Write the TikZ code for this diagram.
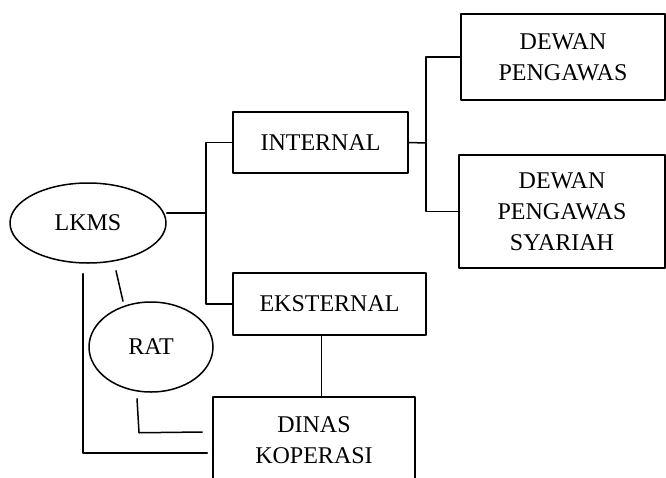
\documentclass[tikz,border=0pt]{standalone}
\usepackage{fontspec}
\setmainfont{Liberation Serif}
\usetikzlibrary{shapes.geometric,calc}
\begin{document}
\begin{tikzpicture}[x=1pt,y=-1pt,line join=round,line cap=round,line width=1.5pt,
	font=\fontsize{24}{31}\selectfont,
	kotak/.style={draw,rectangle,align=center,inner sep=2pt},
	elips/.style={draw,ellipse,inner sep=0pt}]
	\useasboundingbox[fill=white] (0,0) rectangle (666,477);
	\node[elips,minimum width=156,minimum height=80] (lkms) at (88,223) {LKMS};
	\node[elips,minimum width=124,minimum height=90] (rat) at (151,347) {RAT};
	\node[kotak,minimum width=175,minimum height=61] (internal) at (320.5,142.5) {INTERNAL};
	\node[kotak,minimum width=193,minimum height=62] (eksternal) at (329.5,304) {EKSTERNAL};
	\node[kotak,minimum width=204,minimum height=86] (dp) at (563,57) {DEWAN\\PENGAWAS};
	\node[kotak,minimum width=206,minimum height=113] (dps) at (562,211.5) {DEWAN\\PENGAWAS\\SYARIAH};
	\node[kotak,minimum width=202,minimum height=86] (dinas) at (314,440) {DINAS\\KOPERASI};
	\coordinate (bus1) at (206,213);
	\coordinate (bus2) at (426,143);
	\draw ([yshift=10pt]lkms.east) -- (bus1);
	\draw (internal.west) -| (bus1) |- (eksternal.west);
	\draw (internal.east) -- (bus2);
	\draw (dp.west) -| (bus2) |- (dps.west);
	\draw ([xshift=-8pt]eksternal.south) -- ([xshift=-8pt]eksternal.south |- dinas.north);
	\draw ($(lkms.south)+(28,7)$) -- ($(rat.north)+(-28,0)$);
	\draw ($(rat.south)+(-14,6)$) -- ($(rat.south)+(-12,40)$) -- ($(dinas.west)+(-10,-8)$);
	\draw ($(lkms.south)+(-5,10)$) |- ($(dinas.west)+(-5,13)$);
\end{tikzpicture}
\end{document}
